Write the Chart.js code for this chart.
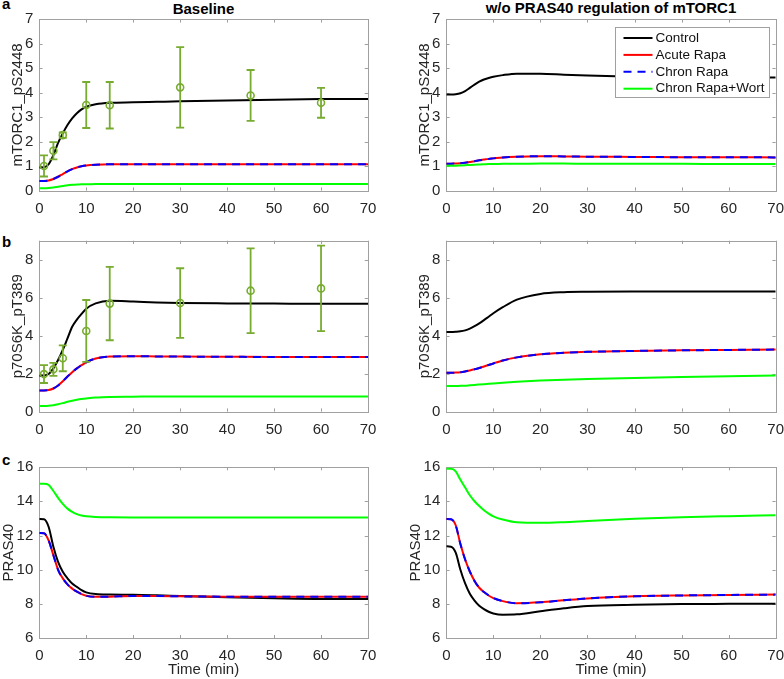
<!DOCTYPE html>
<html><head><meta charset="utf-8">
<script src="https://cdn.jsdelivr.net/npm/chart.js@4.4.0/dist/chart.umd.min.js"></script>
<style>
html,body{margin:0;padding:0;background:#fff;}
body{width:784px;height:679px;position:relative;overflow:hidden;font-family:"Liberation Sans",Arial,Helvetica,sans-serif;}
.pane{position:absolute;}
.txt{position:absolute;font-weight:bold;font-size:15px;line-height:15px;color:#000;white-space:nowrap;}
</style></head><body>
<div class="txt" style="left:2px;top:-4.4px;">a</div>
<div class="txt" style="left:2px;top:234px;">b</div>
<div class="txt" style="left:2px;top:452.3px;">c</div>
<div class="txt" id="t1" style="top:1.3px;left:0;width:407px;text-align:center;">Baseline</div>
<div class="txt" id="t2" style="top:0px;left:0;width:1222px;text-align:center;">w/o PRAS40 regulation of mTORC1</div>

<div class="pane" style="left:0;top:0;width:384px;height:225px;"><canvas id="c11"></canvas></div>
<div class="pane" style="left:407px;top:0;width:377px;height:225px;"><canvas id="c12"></canvas></div>
<div class="pane" style="left:0;top:225px;width:384px;height:225px;"><canvas id="c21"></canvas></div>
<div class="pane" style="left:407px;top:225px;width:377px;height:225px;"><canvas id="c22"></canvas></div>
<div class="pane" style="left:0;top:450px;width:384px;height:229px;"><canvas id="c31"></canvas></div>
<div class="pane" style="left:407px;top:450px;width:377px;height:229px;"><canvas id="c32"></canvas></div>

<script>
// ---- data ----
const seriesNames = ['Control', 'Acute Rapa', 'Chron Rapa', 'Chron Rapa+Wort'];
const T = [0,1,2,3,4,5,6,7,8,9,10,12,15,20,25,30,40,50,60,70];
const xTicks = [0,10,20,30,40,50,60,70];

// a: mTORC1_pS2448, Baseline
const ctrlA  = [0.95,0.96,1.08,1.45,1.95,2.34,2.68,2.95,3.16,3.32,3.43,3.53,3.59,3.61,3.63,3.65,3.68,3.71,3.74,3.75];
const acuteA = [0.40,0.40,0.42,0.48,0.57,0.68,0.79,0.88,0.95,1.00,1.03,1.06,1.08,1.08,1.08,1.08,1.08,1.08,1.08,1.08];
const chronA = [0.40,0.40,0.42,0.48,0.57,0.68,0.79,0.88,0.95,1.00,1.03,1.06,1.08,1.08,1.08,1.08,1.08,1.08,1.08,1.08];
const wortA  = [0.10,0.10,0.11,0.13,0.16,0.19,0.22,0.24,0.25,0.26,0.26,0.27,0.27,0.27,0.27,0.27,0.27,0.27,0.27,0.27];
// a: w/o PRAS40 regulation
const ctrlA2  = [3.93,3.93,3.94,3.98,4.07,4.20,4.33,4.45,4.54,4.60,4.65,4.72,4.78,4.78,4.74,4.70,4.65,4.63,4.62,4.62];
const acuteA2 = [1.10,1.10,1.11,1.12,1.14,1.17,1.20,1.24,1.27,1.30,1.32,1.36,1.39,1.41,1.40,1.39,1.38,1.37,1.37,1.36];
const chronA2 = [1.10,1.10,1.11,1.12,1.14,1.17,1.20,1.24,1.27,1.30,1.32,1.36,1.39,1.41,1.40,1.39,1.38,1.37,1.37,1.36];
const wortA2  = [1.02,1.02,1.02,1.03,1.04,1.05,1.06,1.07,1.08,1.09,1.09,1.10,1.10,1.11,1.11,1.10,1.10,1.10,1.09,1.09];

// b: p70S6K_pT389, Baseline
const ctrlB  = [1.89,1.90,1.98,2.28,2.72,3.25,3.86,4.47,4.85,5.15,5.42,5.70,5.84,5.80,5.75,5.72,5.70,5.69,5.68,5.68];
const acuteB = [1.12,1.12,1.14,1.22,1.38,1.60,1.85,2.08,2.28,2.45,2.60,2.80,2.90,2.92,2.91,2.90,2.89,2.88,2.88,2.88];
const chronB = [1.12,1.12,1.14,1.22,1.38,1.60,1.85,2.08,2.28,2.45,2.60,2.80,2.90,2.92,2.91,2.90,2.89,2.88,2.88,2.88];
const wortB  = [0.30,0.30,0.31,0.34,0.39,0.45,0.52,0.58,0.63,0.67,0.70,0.75,0.78,0.79,0.80,0.80,0.80,0.80,0.80,0.80];
// b: w/o PRAS40 regulation
const ctrlB2  = [4.20,4.20,4.21,4.23,4.28,4.37,4.50,4.65,4.82,5.00,5.18,5.50,5.90,6.20,6.29,6.31,6.32,6.32,6.32,6.32];
const acuteB2 = [2.05,2.05,2.06,2.08,2.12,2.17,2.23,2.30,2.38,2.46,2.54,2.69,2.86,3.02,3.10,3.15,3.20,3.23,3.25,3.27];
const chronB2 = [2.05,2.05,2.06,2.08,2.12,2.17,2.23,2.30,2.38,2.46,2.54,2.69,2.86,3.02,3.10,3.15,3.20,3.23,3.25,3.27];
const wortB2  = [1.35,1.35,1.35,1.36,1.37,1.39,1.41,1.43,1.45,1.47,1.49,1.53,1.58,1.64,1.68,1.72,1.78,1.83,1.87,1.90];

// c: PRAS40, Baseline
const ctrlC  = [12.97,12.95,12.50,11.34,10.46,9.88,9.50,9.20,9.00,8.81,8.68,8.58,8.55,8.54,8.51,8.47,8.40,8.34,8.30,8.30];
const acuteC = [12.15,12.13,11.70,10.85,10.00,9.50,9.15,8.90,8.72,8.58,8.48,8.42,8.43,8.47,8.47,8.45,8.43,8.42,8.42,8.42];
const chronC = [12.15,12.13,11.70,10.85,10.00,9.50,9.15,8.90,8.72,8.58,8.48,8.42,8.43,8.47,8.47,8.45,8.43,8.42,8.42,8.42];
const wortC  = [15.02,15.02,14.95,14.60,14.20,13.85,13.57,13.38,13.25,13.17,13.12,13.08,13.06,13.05,13.05,13.05,13.05,13.05,13.05,13.05];
// c: w/o PRAS40 regulation
const ctrlC2  = [11.37,11.35,11.00,10.00,9.20,8.60,8.20,7.90,7.70,7.55,7.45,7.38,7.40,7.58,7.75,7.88,7.96,8.00,8.01,8.02];
const acuteC2 = [12.97,12.95,12.60,11.50,10.60,9.90,9.35,8.95,8.70,8.50,8.35,8.17,8.05,8.10,8.22,8.33,8.45,8.50,8.53,8.55];
const chronC2 = [12.97,12.95,12.60,11.50,10.60,9.90,9.35,8.95,8.70,8.50,8.35,8.17,8.05,8.10,8.22,8.33,8.45,8.50,8.53,8.55];
const wortC2  = [15.90,15.90,15.75,15.25,14.80,14.35,14.00,13.72,13.48,13.28,13.12,12.93,12.77,12.74,12.78,12.85,12.98,13.07,13.13,13.18];

// experimental data (mean +/- error)
const expT = [1,3,5,10,15,30,45,60];
const expA = [1.01,1.63,2.27,3.50,3.49,4.22,3.89,3.59];
const errA = [0.43,0.35,0.11,0.94,0.95,1.64,1.04,0.61];
const expB = [1.98,2.23,2.81,4.25,5.69,5.72,6.37,6.49];
const errB = [0.47,0.34,0.68,1.63,1.93,1.83,2.23,2.25];

// ---- styling ----
const FONT = '"Liberation Sans", Arial, Helvetica, sans-serif';
const AXIS_GRAY = '#a0a0a0';
const TEXT_GRAY = '#262626';
const EXP_GREEN = '#77ac30';
const seriesColors = ['#000000', '#ff0000', '#0000ff', '#00ff00'];

const zip = (xs, ys) => xs.map((x, i) => ({x, y: ys[i]}));

const matlabAxes = {
  id: 'matlabAxes',
  beforeDatasetsDraw(chart) {
    const {ctx, chartArea: a, scales: {x, y}} = chart;
    const L = 3.3;
    ctx.save();
    ctx.strokeStyle = AXIS_GRAY;
    ctx.lineWidth = 1;
    ctx.beginPath();
    x.ticks.forEach(t => {
      const p = Math.round(x.getPixelForValue(t.value)) + 0.5;
      ctx.moveTo(p, a.bottom); ctx.lineTo(p, a.bottom - L);
      ctx.moveTo(p, a.top); ctx.lineTo(p, a.top + L);
    });
    y.ticks.forEach(t => {
      const p = Math.round(y.getPixelForValue(t.value)) + 0.5;
      ctx.moveTo(a.left, p); ctx.lineTo(a.left + L, p);
      ctx.moveTo(a.right, p); ctx.lineTo(a.right - L, p);
    });
    ctx.stroke();
    ctx.strokeRect(Math.round(a.left) + 0.5, Math.round(a.top) + 0.5,
                   Math.round(a.right) - Math.round(a.left), Math.round(a.bottom) - Math.round(a.top));
    ctx.restore();
  }
};

const errorBars = {
  id: 'errorBars',
  afterDatasetsDraw(chart, args, opts) {
    if (!opts || !opts.t) return;
    const {ctx, scales: {x, y}} = chart;
    ctx.save();
    ctx.strokeStyle = EXP_GREEN;
    ctx.lineWidth = 1.8;
    ctx.beginPath();
    opts.t.forEach((t, i) => {
      const px = x.getPixelForValue(t);
      const lo = y.getPixelForValue(opts.mean[i] - opts.err[i]);
      const hi = y.getPixelForValue(opts.mean[i] + opts.err[i]);
      ctx.moveTo(px, lo); ctx.lineTo(px, hi);
      ctx.moveTo(px - 4, lo); ctx.lineTo(px + 4, lo);
      ctx.moveTo(px - 4, hi); ctx.lineTo(px + 4, hi);
    });
    ctx.stroke();
    ctx.restore();
  }
};

const boxLegend = {
  id: 'boxLegend',
  afterDraw(chart, args, opts) {
    if (!opts || !opts.show) return;
    const {ctx, chartArea: a} = chart;
    const bx = Math.round(a.right - 160.7) + 0.5, by = Math.round(a.top + 7.4) + 0.5;
    const bw = 154, bh = 70;
    ctx.save();
    ctx.fillStyle = '#fff';
    ctx.fillRect(bx, by, bw, bh);
    ctx.strokeStyle = AXIS_GRAY; ctx.lineWidth = 1;
    ctx.strokeRect(bx, by, bw, bh);
    const items = chart.data.datasets.filter(d => !d.isExp);
    ctx.font = '13.5px ' + FONT;
    ctx.textBaseline = 'middle';
    ctx.textAlign = 'left';
    items.forEach((d, i) => {
      const yy = by + 10.5 + i * 16.9;
      ctx.beginPath();
      ctx.strokeStyle = d.borderColor;
      ctx.lineWidth = 2;
      ctx.setLineDash(d.borderDash || []);
      ctx.moveTo(bx + 8, yy); ctx.lineTo(bx + 37, yy);
      ctx.stroke();
      ctx.setLineDash([]);
      ctx.fillStyle = '#111';
      ctx.fillText(d.label, bx + 40, yy);
    });
    ctx.restore();
  }
};

function curveSets(vals) {
  return vals.map((v, i) => ({
    label: seriesNames[i],
    data: zip(T, v),
    borderColor: seriesColors[i],
    backgroundColor: seriesColors[i],
    borderWidth: 2,
    borderDash: i === 2 ? [8, 6] : [],
    pointRadius: 0,
    fill: false,
    cubicInterpolationMode: 'monotone',
    order: 4 - i
  }));
}

function expSet(mean) {
  return {
    label: 'Data', isExp: true,
    data: zip(expT, mean),
    showLine: false,
    pointRadius: 3.5,
    pointBorderWidth: 1.6,
    pointBorderColor: EXP_GREEN,
    pointBackgroundColor: 'rgba(0,0,0,0)',
    order: 0
  };
}

const cols = [{padR: 16}, {padR: 8.3}];
const rows = [{padT: 19.3, xH: 34.3, yTitlePad: 8.5}, {padT: 15.7, xH: 38.3, yTitlePad: 8.5}, {padT: 17, xH: 40.7, yTitlePad: 0}];

function makePanel(id, r, c, cfg) {
  const yAxisW = 39.3;
  new Chart(document.getElementById(id), {
    type: 'line',
    data: {datasets: cfg.datasets},
    options: {
      responsive: true, maintainAspectRatio: false, animation: false,
      layout: {padding: {top: rows[r].padT, right: cols[c].padR, left: 0, bottom: 0}},
      plugins: {
        legend: {display: false}, tooltip: {enabled: false},
        errorBars: cfg.err || {},
        boxLegend: {show: !!cfg.legend}
      },
      scales: {
        x: {
          type: 'linear', min: 0, max: 70,
          afterBuildTicks: s => { s.ticks = xTicks.map(v => ({value: v})); },
          ticks: {font: {size: 15, family: FONT}, color: TEXT_GRAY, padding: 9, maxRotation: 0, autoSkip: false},
          grid: {display: false, drawTicks: false},
          border: {display: false},
          title: {display: r === 2, text: 'Time (min)', font: {size: 15, family: FONT}, color: TEXT_GRAY, padding: {top: 0, bottom: 0}},
          afterFit: s => { s.height = rows[r].xH; s.paddingLeft = 0; s.paddingRight = 0; }
        },
        y: {
          type: 'linear', min: cfg.yMin, max: cfg.yMax,
          afterBuildTicks: s => { s.ticks = cfg.yTicks.map(v => ({value: v})); },
          ticks: {font: {size: 15, family: FONT}, color: TEXT_GRAY, padding: 6},
          grid: {display: false, drawTicks: false},
          border: {display: false},
          title: {display: true, text: cfg.yLabel, font: {size: 15, family: FONT}, color: TEXT_GRAY, padding: {top: rows[r].yTitlePad, bottom: 0}},
          afterFit: s => { s.width = yAxisW; s.paddingTop = 0; s.paddingBottom = 0; }
        }
      }
    },
    plugins: [matlabAxes, errorBars, boxLegend]
  });
}

const ticksA = [0,1,2,3,4,5,6,7];
const ticksB = [0,2,4,6,8];
const ticksC = [6,8,10,12,14,16];

makePanel('c11', 0, 0, {datasets: [...curveSets([ctrlA, acuteA, chronA, wortA]), expSet(expA)],
  yMin: 0, yMax: 7, yTicks: ticksA, yLabel: 'mTORC1_pS2448', err: {t: expT, mean: expA, err: errA}});
makePanel('c12', 0, 1, {datasets: curveSets([ctrlA2, acuteA2, chronA2, wortA2]),
  yMin: 0, yMax: 7, yTicks: ticksA, yLabel: 'mTORC1_pS2448', legend: true});
makePanel('c21', 1, 0, {datasets: [...curveSets([ctrlB, acuteB, chronB, wortB]), expSet(expB)],
  yMin: 0, yMax: 9, yTicks: ticksB, yLabel: 'p70S6K_pT389', err: {t: expT, mean: expB, err: errB}});
makePanel('c22', 1, 1, {datasets: curveSets([ctrlB2, acuteB2, chronB2, wortB2]),
  yMin: 0, yMax: 9, yTicks: ticksB, yLabel: 'p70S6K_pT389'});
makePanel('c31', 2, 0, {datasets: curveSets([ctrlC, acuteC, chronC, wortC]),
  yMin: 6, yMax: 16, yTicks: ticksC, yLabel: 'PRAS40'});
makePanel('c32', 2, 1, {datasets: curveSets([ctrlC2, acuteC2, chronC2, wortC2]),
  yMin: 6, yMax: 16, yTicks: ticksC, yLabel: 'PRAS40'});
</script>
</body></html>
